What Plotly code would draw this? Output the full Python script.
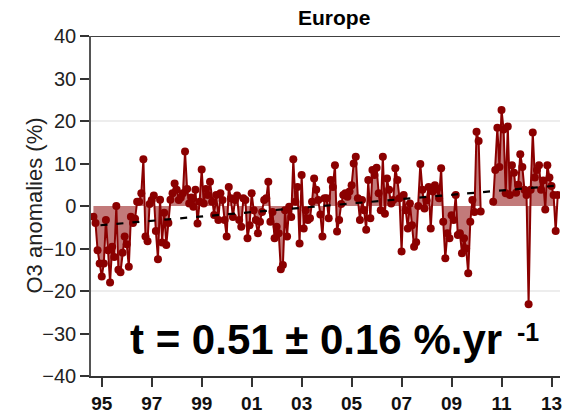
import numpy as np
import plotly.graph_objects as go

# Monthly O3 anomalies (%) over Europe, first value = Sep 1994; None = missing month
o3_1994_1998 = [
    -2.5, -4, -10.4, -13.5,                                          # 1994 Sep-Dec
    -16.6, -13.5, -3.3, -10.4, -18, -9.6, -12, 0, -15, -15.6, -11, -7.2,   # 1995
    -9, -14.3, -2.5, -4, -3, 1, 1, 3, 11, -7.2, -8.3, 0.5,               # 1996
    1.4, 2.5, -5.9, -12.5, 1.5, -8.6, -1.6, -9.2, -4, 1.5, 3, 5.3,       # 1997
    3.8, 1.4, 2, 3, 12.8, 4, 0.6, 2, -0.2, 3.8, -4.1, 1,                 # 1998
]
o3_1999_2003 = [
    8.6, 0.6, 4, 2.6, 5.7, 1, -2.1, 2.6, -3.3, 3, 1.4, -3.3,
    -7.2, 4.5, 1.8, -2.6, 1.4, 2.5, -3.3, -4.9, 1.8, 1.4, -7.6, -4.5,
    3, -1, -3.3, -6.4, -3.7, -1.4, 1.4, 1.8, 5.7, -3.7, -1.4, -7.6,
    -4.9, -6.4, -14.9, -13.9, -1, -7.2, -0.2, -2.6, 11, 1, 4.5, -8.8,
    7.3, -5.3, -1, -3.3, -2.9, 1, 6.5, 3.8, 1.4, -2, -7.2, 1.8,
]
o3_2004_2008 = [
    1.8, -2.9, 6.1, 4.5, 9.6, -6, -3.3, 0.5, 2.6, 3, 2.2, 3.4,
    4.9, 10, 11.6, 1.8, -3.3, 1.4, -1, -5.6, 6.1, -2.9, 8.5, 7.3,
    9, 3, -1, 11.6, -1.8, 6.5, 3.8, 0.6, 1.4, 8.9, 6.1, 1.8,
    -10.7, 2.6, -1, -5.3, 0.6, -4.5, -9.6, -8.5, 0, 9.9, 3.8, -0.6,
    1.3, 4.5, -5.3, 3.4, 4.9, 4, 1.8, 8.9, -3.7, -12.3, -6.4, -7.6,
]
o3_2009_2013 = [
    -2.2, -3.3, 2.6, -6.8, -6.4, -11.1, -7.6, -10, -15.8, -3.7, 1.4, -1.4,
    17.5, 15.3, -1.3, None, None, None, None, None, 1, 8.5, 18.4, 9.2,
    22.6, 18, 3, 18.7, 2.6, 9.6, 7.8, 3.1, 5, 12.2, 9.2, 3.8,
    2.6, -23.1, 3.8, 17.3, 6.7, 8.5, 9.6, 3.8, 6, -0.8, 9.6, 6.7,
    4.7, 2.6, -5.9, 2.6,
]

# Linear trend (%/yr) and its offset at 1995.0
trend_slope = 0.51
trend_offset_1995 = -4.5
trend_span = [1994.95, 2013.34]

year_ticks = list(range(1995, 2014, 2))
year_labels = [f"<b>{y % 100:02d}</b>" for y in year_ticks]

anom = np.array(o3_1994_1998 + o3_1999_2003 + o3_2004_2008 + o3_2009_2013, dtype=float)
t = 1994 + 8 / 12 + np.arange(len(anom)) / 12

red = "rgb(139,0,0)"
fig = go.Figure()

# shaded area between the series and zero, one piece per contiguous run
valid = ~np.isnan(anom)
edges = np.flatnonzero(np.diff(np.r_[0, valid.astype(int), 0]))
for s, e in zip(edges[::2], edges[1::2]):
    fig.add_trace(go.Scatter(
        x=t[s:e], y=anom[s:e], mode="lines", line=dict(width=0),
        fill="tozeroy", fillcolor="rgba(139,0,0,0.52)", hoverinfo="skip",
        showlegend=False))

fig.add_trace(go.Scatter(
    x=t, y=anom, mode="lines+markers", connectgaps=False,
    line=dict(color=red, width=2),
    marker=dict(color=red, size=8), showlegend=False))

tx = np.array(trend_span)
fig.add_trace(go.Scatter(
    x=tx, y=trend_offset_1995 + trend_slope * (tx - 1995),
    mode="lines", line=dict(color="black", width=2.2, dash="7px,9px"),
    showlegend=False))

for g in (20, -20):
    fig.add_shape(type="line", xref="paper", x0=0, x1=1, yref="y", y0=g, y1=g,
                  line=dict(color="#dcdcdc", width=1.2), layer="below")
fig.add_shape(type="line", xref="paper", x0=0, x1=1, yref="y", y0=40, y1=40,
              line=dict(color="black", width=1.6))

W, H, L, T, B = 562, 414, 91, 36, 38
PW, PH = W - L, H - T - B


def px(x):
    return (x - L) / PW


fig.add_annotation(text="<b>Europe</b>", xref="paper", yref="paper",
                   x=px(335), y=1 + (T - 18) / PH, yanchor="middle",
                   showarrow=False, font=dict(size=21, color="black"))
fig.add_annotation(text="O3 anomalies (%)", textangle=-90, xref="paper", yref="paper",
                   x=0, xshift=-72, y=0.5, showarrow=False,
                   font=dict(size=22, color="#222"))
fig.add_annotation(text="<b>t = 0.51 ± 0.16 %.yr</b>", xref="paper", yref="y",
                   x=px(128), xanchor="left", y=-31.5, yanchor="middle",
                   showarrow=False, font=dict(size=42, color="black"))
fig.add_annotation(text="<b>-1</b>", xref="paper", yref="y",
                   x=px(517), xanchor="left", y=-29.6, yanchor="middle",
                   showarrow=False, font=dict(size=25, color="black"))

fig.update_layout(
    width=W, height=H,
    margin=dict(l=L, r=0, t=T, b=B),
    paper_bgcolor="white", plot_bgcolor="white",
    font=dict(family="Liberation Sans, Arial, sans-serif", color="#222"),
    xaxis=dict(range=[1994.57, 2013.34], tickvals=year_ticks, ticktext=year_labels,
               ticks="outside", ticklen=9, tickwidth=1.5, tickcolor="#333",
               showline=True, linecolor="#333", linewidth=1.5, showgrid=False,
               zeroline=False, ticklabeloverflow="allow",
               tickfont=dict(size=19, color="#111")),
    yaxis=dict(range=[-40, 40], tickvals=list(range(-40, 41, 10)),
               ticks="outside", ticklen=9, tickwidth=1.5, tickcolor="#333",
               showline=True, linecolor="#555", linewidth=1.5, showgrid=False,
               zeroline=False, ticksuffix=" ",
               tickfont=dict(size=20, color="#222")),
)

fig.write_html("out.html")
